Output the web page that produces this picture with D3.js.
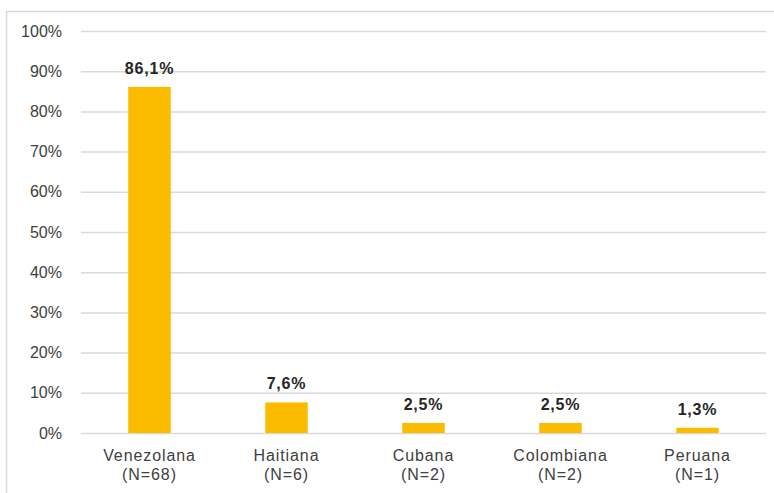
<!DOCTYPE html>
<html>
<head>
<meta charset="utf-8">
<script src="https://cdn.jsdelivr.net/npm/d3@7"></script>
<style>
  body { margin: 0; background: #fff; }
  text { font-family: "Liberation Sans", Arial, sans-serif; }
</style>
</head>
<body>
<div id="chart"></div>
<script>
const categories = ["Venezolana", "Haitiana", "Cubana", "Colombiana", "Peruana"];
const counts = ["(N=68)", "(N=6)", "(N=2)", "(N=2)", "(N=1)"];
const values = [86.1, 7.6, 2.5, 2.5, 1.3];
const yTicks = [0, 10, 20, 30, 40, 50, 60, 70, 80, 90, 100];

const W = 774, H = 493;
const margin = { top: 31, right: 8, bottom: 60, left: 81 };
const width = W - margin.left - margin.right,
  height = H - margin.top - margin.bottom;

const root = d3.select("#chart").append("svg")
  .attr("width", W)
  .attr("height", H);

// chart frame (only top and left edges show in the picture)
root.append("rect")
  .attr("x", 6.5).attr("y", 11.5)
  .attr("width", W + 10).attr("height", H + 10)
  .attr("fill", "none")
  .attr("stroke", "#d9d9d9")
  .attr("stroke-width", 1.5);

const svg = root.append("g")
  .attr("transform", `translate(${margin.left},${margin.top})`);

const x = d3.scaleBand()
  .domain(categories)
  .range([0, width])
  .paddingInner(0.69)
  .paddingOuter(0.345);

const y = d3.scaleLinear()
  .domain([0, 100])
  .range([height, 0]);

// gridlines + y labels
const yAxis = svg.append("g")
  .call(d3.axisLeft(y).tickValues(yTicks).tickSize(-width).tickPadding(19)
    .tickFormat(d => d + "%"));
yAxis.select(".domain").remove();
yAxis.selectAll(".tick line").attr("stroke", "#d9d9d9").attr("stroke-width", 1.5);
yAxis.selectAll(".tick text")
  .attr("fill", "#404040")
  .style("font-size", "16px");

svg.selectAll(".bar")
  .data(values)
  .join("rect")
  .attr("class", "bar")
  .attr("x", (d, i) => x(categories[i]))
  .attr("y", d => y(d))
  .attr("width", x.bandwidth())
  .attr("height", d => height - y(d))
  .attr("fill", "#fbbc00");

svg.selectAll(".val")
  .data(values)
  .join("text")
  .attr("class", "val")
  .attr("x", (d, i) => x(categories[i]) + x.bandwidth() / 2)
  .attr("y", d => y(d) - 13)
  .attr("text-anchor", "middle")
  .attr("fill", "#262626")
  .style("font-size", "16px")
  .style("font-weight", "bold")
  .style("letter-spacing", "0.8px")
  .text(d => d.toFixed(1).replace(".", ",") + "%");

// category labels, two lines
const cat = svg.selectAll(".cat")
  .data(categories)
  .join("text")
  .attr("class", "cat")
  .attr("text-anchor", "middle")
  .attr("fill", "#404040")
  .style("font-size", "16px")
  .style("letter-spacing", "0.9px");
cat.append("tspan")
  .attr("x", d => x(d) + x.bandwidth() / 2)
  .attr("y", height + 28)
  .text(d => d);
cat.append("tspan")
  .attr("x", d => x(d) + x.bandwidth() / 2)
  .attr("y", height + 47)
  .text((d, i) => counts[i]);
</script>
</body>
</html>
